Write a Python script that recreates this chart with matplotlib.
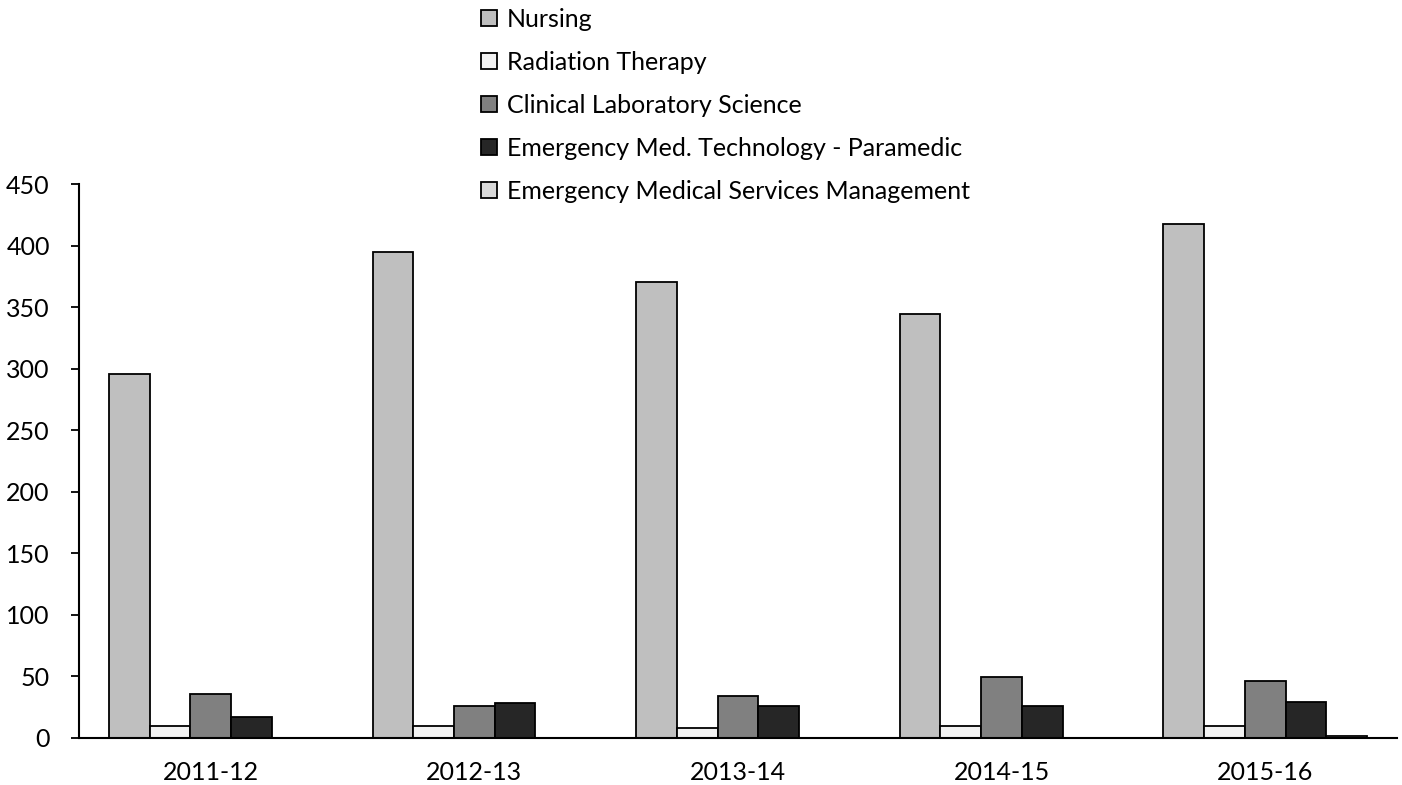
import matplotlib

matplotlib.use("Agg")

import matplotlib.pyplot as plt
import numpy as np


plt.rcParams["font.family"] = ["Lato", "DejaVu Sans"]

YEARS = ["2011-12", "2012-13", "2013-14", "2014-15", "2015-16"]

SERIES_NAMES = [
    "Nursing",
    "Radiation Therapy",
    "Clinical Laboratory Science",
    "Emergency Med. Technology - Paramedic",
    "Emergency Medical Services Management",
]

NURSING = [296, 395, 371, 345, 418]
RADIATION_THERAPY = [9, 9, 8, 9, 9]
CLINICAL_LAB = [35, 26, 34, 49, 46]
PARAMEDIC = [17, 28, 26, 26, 29]
EMS_MANAGEMENT = [0, 0, 0, 0, 1]

COLORS = ["#bfbfbf", "#f2f2f2", "#808080", "#262626", "#d9d9d9"]

Y_TICKS = [0, 50, 100, 150, 200, 250, 300, 350, 400, 450]


def main():
    fig = plt.figure(figsize=(14.02, 7.85), dpi=100)
    ax = fig.add_axes([0.0563, 0.0605, 0.9401, 0.7045])

    series = [
        NURSING,
        RADIATION_THERAPY,
        CLINICAL_LAB,
        PARAMEDIC,
        EMS_MANAGEMENT,
    ]

    x = np.arange(len(YEARS))
    bar_width = 0.1545
    offsets = (np.arange(len(series)) - 2) * bar_width

    for values, name, color, offset in zip(series, SERIES_NAMES, COLORS, offsets):
        ax.bar(
            x + offset,
            values,
            width=bar_width,
            color=color,
            edgecolor="black",
            linewidth=1.3,
            label=name,
        )

    ax.set_xlim(-0.5, len(YEARS) - 0.5)
    ax.set_ylim(0, 450)
    ax.set_yticks(Y_TICKS)
    ax.set_xticks(x)
    ax.set_xticklabels(YEARS)

    ax.spines["top"].set_visible(False)
    ax.spines["right"].set_visible(False)
    ax.spines["left"].set_linewidth(1.5)
    ax.spines["bottom"].set_linewidth(1.5)

    ax.tick_params(axis="y", length=6, width=1.3, labelsize=18, pad=15)
    ax.tick_params(axis="x", length=0, labelsize=18, pad=17)

    handles, labels = ax.get_legend_handles_labels()
    fig.legend(
        handles,
        labels,
        loc="upper left",
        bbox_to_anchor=(0.336, 1.003),
        frameon=False,
        fontsize=18,
        handlelength=0.62,
        handleheight=0.62,
        handletextpad=0.42,
        labelspacing=0.80,
        borderaxespad=0,
    )

    fig.savefig("out.png", dpi=100)
    plt.close(fig)


if __name__ == "__main__":
    main()
